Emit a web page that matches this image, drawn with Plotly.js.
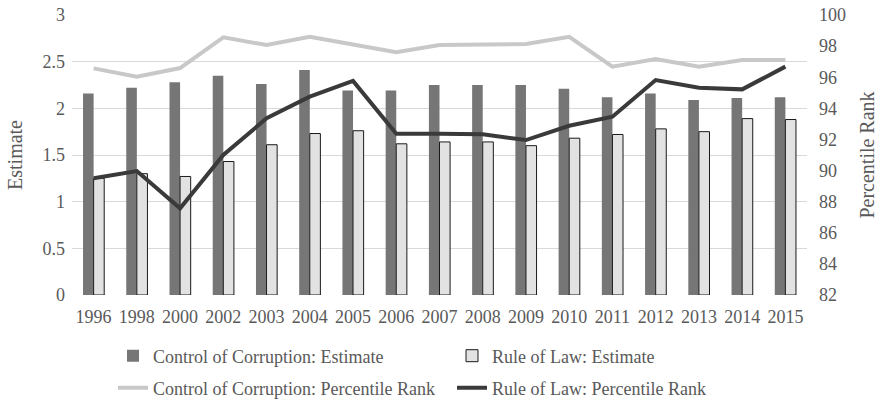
<!DOCTYPE html>
<html>
<head>
<meta charset="utf-8">
<script src="https://cdn.plot.ly/plotly-3.0.1.min.js"></script>
<style>
  html, body { margin: 0; padding: 0; background: #ffffff; }
  #chart { width: 881px; height: 401px; }
</style>
</head>
<body>
<div id="chart"></div>
<script>
// Governance indicators, 1996-2015
const years = ['1996', '1998', '2000', '2002', '2003', '2004', '2005', '2006', '2007',
               '2008', '2009', '2010', '2011', '2012', '2013', '2014', '2015'];

// Estimates (left axis)
const corruptionEstimate = [2.16, 2.22, 2.28, 2.35, 2.26, 2.41, 2.19, 2.19, 2.25,
                            2.25, 2.25, 2.21, 2.12, 2.16, 2.09, 2.11, 2.12];
const ruleOfLawEstimate  = [1.25, 1.30, 1.27, 1.43, 1.61, 1.73, 1.76, 1.62, 1.64,
                            1.64, 1.60, 1.68, 1.72, 1.78, 1.75, 1.89, 1.88];

// Percentile ranks (right axis)
const corruptionRank = [96.57, 96.04, 96.59, 98.56, 98.07, 98.60, 98.10, 97.60, 98.07,
                        98.07, 98.13, 98.60, 96.68, 97.17, 96.68, 97.10, 97.10];
const ruleOfLawRank  = [89.50, 89.97, 87.57, 91.00, 93.36, 94.75, 95.76, 92.37, 92.37,
                        92.33, 91.96, 92.88, 93.46, 95.82, 95.33, 95.22, 96.68];

const seriesNames = [
  'Control of Corruption: Estimate',
  'Rule of Law: Estimate',
  'Control of Corruption: Percentile Rank',
  'Rule of Law: Percentile Rank'
];

const FONT = 'Liberation Serif';
const TEXT = '#595959';
const GRID = '#d9d9d9';

const traces = [
  {
    type: 'bar', name: seriesNames[0], x: years, y: corruptionEstimate,
    marker: { color: '#767676', line: { width: 0 } },
    legend: 'legend'
  },
  {
    type: 'bar', name: seriesNames[1], x: years, y: ruleOfLawEstimate,
    marker: { color: '#e2e2e2', line: { color: '#1a1a1a', width: 1 } },
    legend: 'legend'
  },
  {
    type: 'scatter', mode: 'lines', name: seriesNames[2], x: years, y: corruptionRank,
    yaxis: 'y2', line: { color: '#c8c8c8', width: 4 },
    legend: 'legend2'
  },
  {
    type: 'scatter', mode: 'lines', name: seriesNames[3], x: years, y: ruleOfLawRank,
    yaxis: 'y2', line: { color: '#3a3a3a', width: 4 },
    legend: 'legend2'
  }
];

const legendCommon = {
  orientation: 'h',
  xref: 'container', yref: 'container',
  xanchor: 'left', yanchor: 'middle',
  entrywidth: 294,
  font: { family: FONT, size: 18, color: TEXT },
  bgcolor: 'rgba(0,0,0,0)',
  borderwidth: 0
};

const layout = {
  width: 881, height: 401,
  margin: { l: 72, r: 74, t: 15, b: 106 },
  paper_bgcolor: '#ffffff', plot_bgcolor: '#ffffff',
  font: { family: FONT, size: 18, color: TEXT },
  barmode: 'group',
  bargap: 0.51,
  bargroupgap: 0,
  xaxis: {
    type: 'category',
    showgrid: false, showline: false, zeroline: false, ticks: '',
    ticklabelstandoff: 9,
    tickfont: { family: FONT, size: 18, color: TEXT }
  },
  yaxis: {
    range: [0, 3], dtick: 0.5, tick0: 0,
    showgrid: true, gridcolor: GRID, gridwidth: 1,
    zeroline: false, showline: false, ticks: '',
    ticklabelstandoff: 6,
    tickfont: { family: FONT, size: 18, color: TEXT },
    title: { text: 'Estimate', font: { family: FONT, size: 20, color: TEXT } }
  },
  yaxis2: {
    overlaying: 'y', side: 'right',
    range: [82, 100], dtick: 2, tick0: 82,
    showgrid: false, zeroline: false, showline: false, ticks: '',
    ticklabelstandoff: 11,
    tickfont: { family: FONT, size: 18, color: TEXT },
    title: { text: 'Percentile Rank', standoff: 14, font: { family: FONT, size: 20, color: TEXT } }
  },
  legend: Object.assign({}, legendCommon, { x: 113 / 881, y: 1 - 356 / 401 }),
  legend2: Object.assign({}, legendCommon, { x: 113 / 881, y: 1 - 388 / 401 }),
  showlegend: true
};

Plotly.newPlot('chart', traces, layout, { displayModeBar: false, responsive: false });
</script>
</body>
</html>
